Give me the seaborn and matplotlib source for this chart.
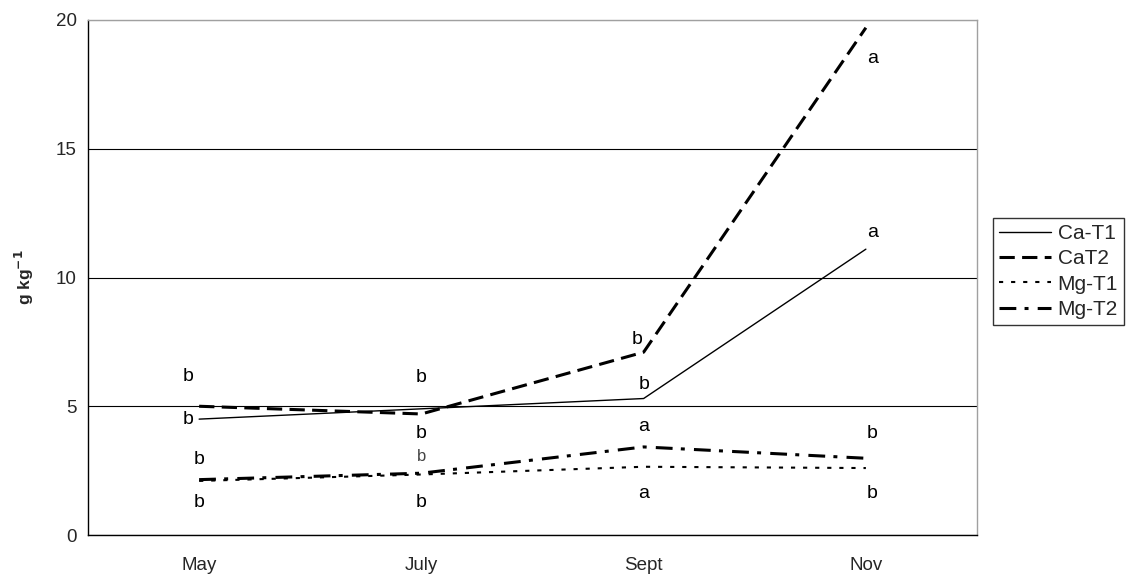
import numpy as np
import pandas as pd
import matplotlib
matplotlib.use('Agg')
import matplotlib.pyplot as plt
import seaborn as sns

# values
months = ['May', 'July', 'Sept', 'Nov']
ca_t1 = [4.5, 4.9, 5.3, 11.1]
ca_t2 = [5.0, 4.7, 7.1, 19.7]
mg_t1 = [2.1, 2.35, 2.65, 2.6]
mg_t2 = [2.15, 2.4, 3.42, 2.98]
series_names = ['Ca-T1', 'CaT2', 'Mg-T1', 'Mg-T2']

# significance letters (month index, y, letter)
letter_month = [0, 0, 0, 0, 1, 1, 1, 1, 2, 2, 2, 2, 3, 3, 3, 3]
letter_y = [6.15, 4.5, 2.95, 1.25, 6.1, 3.95, 3.05, 1.25,
            7.6, 5.85, 4.2, 1.63, 18.5, 11.75, 3.95, 1.63]
letter_txt = ['b', 'b', 'b', 'b', 'b', 'b', 'b', 'b',
              'b', 'b', 'a', 'a', 'a', 'a', 'b', 'b']

df = pd.DataFrame({
    'month': months * 4,
    'value': ca_t1 + ca_t2 + mg_t1 + mg_t2,
    'series': np.repeat(series_names, len(months)),
})

sns.set_style('white')
plt.rcParams['font.family'] = ['Liberation Sans', 'DejaVu Sans']

fig, ax = plt.subplots(figsize=(11.26, 5.78), dpi=100)
fig.subplots_adjust(left=88/1126, right=977/1126, top=1-20/578, bottom=1-535/578)

sns.lineplot(data=df, x='month', y='value', hue='series', style='series', size='series',
             palette={s: 'black' for s in series_names},
             dashes={'Ca-T1': '', 'CaT2': (5, 2.4), 'Mg-T1': (2, 3.8), 'Mg-T2': (5.5, 2.7, 1.3, 3)},
             sizes={'Ca-T1': 1.0, 'CaT2': 2.2, 'Mg-T1': 1.5, 'Mg-T2': 2.2},
             sort=False, ax=ax)

for m, y, t in zip(letter_month, letter_y, letter_txt):
    if m == 0 and y > 4:
        dx = -0.05
    elif m == 2 and y > 7:
        dx = -0.03
    elif m == 3:
        dx = 0.03
    else:
        dx = 0.0
    small = (m == 1 and abs(y - 3.05) < 0.01)
    ax.text(m + dx, y, t, ha='center', va='center',
            fontsize=12 if small else 14,
            color='#444444' if small else 'black')

ax.set_xlim(-0.5, 3.5)
ax.set_ylim(0, 20)
ax.set_yticks([0, 5, 10, 15, 20])
ax.set_xticks([-0.5, 0.5, 1.5, 2.5, 3.5])
ax.set_xticklabels([])
ax.set_xticks([0, 1, 2, 3], minor=True)
ax.set_xticklabels(months, minor=True)
ax.tick_params(axis='x', which='major', direction='out', length=5, width=0.8, color='black')
ax.tick_params(axis='x', which='minor', length=0, pad=16, labelsize=13.5)
ax.tick_params(axis='y', direction='out', length=5, width=0.8, color='black', labelsize=13.5, pad=3)

ax.yaxis.grid(True, color='black', linewidth=0.8)
ax.get_ygridlines()[-1].set_color('#a0a0a0')
ax.get_ygridlines()[-1].set_linewidth(1.5)
ax.set_axisbelow(True)

for side in ['left', 'bottom']:
    ax.spines[side].set_color('black')
    ax.spines[side].set_linewidth(1.0)
for side in ['top', 'right']:
    ax.spines[side].set_color('#a0a0a0')
    ax.spines[side].set_linewidth(1.0)

ax.set_xlabel('')
ax.set_ylabel('g kg$^{\\mathbf{-1}}$', fontsize=12.5, fontweight='bold')
ax.yaxis.set_label_coords(-0.058, 0.5)

leg = ax.legend(loc='upper left', bbox_to_anchor=(993/1126, 1-218/578),
                bbox_transform=fig.transFigure, frameon=True, fancybox=False,
                edgecolor='black', fontsize=15, handlelength=2.5, handletextpad=0.3,
                labelspacing=0.3, borderpad=0.3, borderaxespad=0)
leg.get_frame().set_linewidth(1.0)

fig.savefig('out.png', dpi=100)
